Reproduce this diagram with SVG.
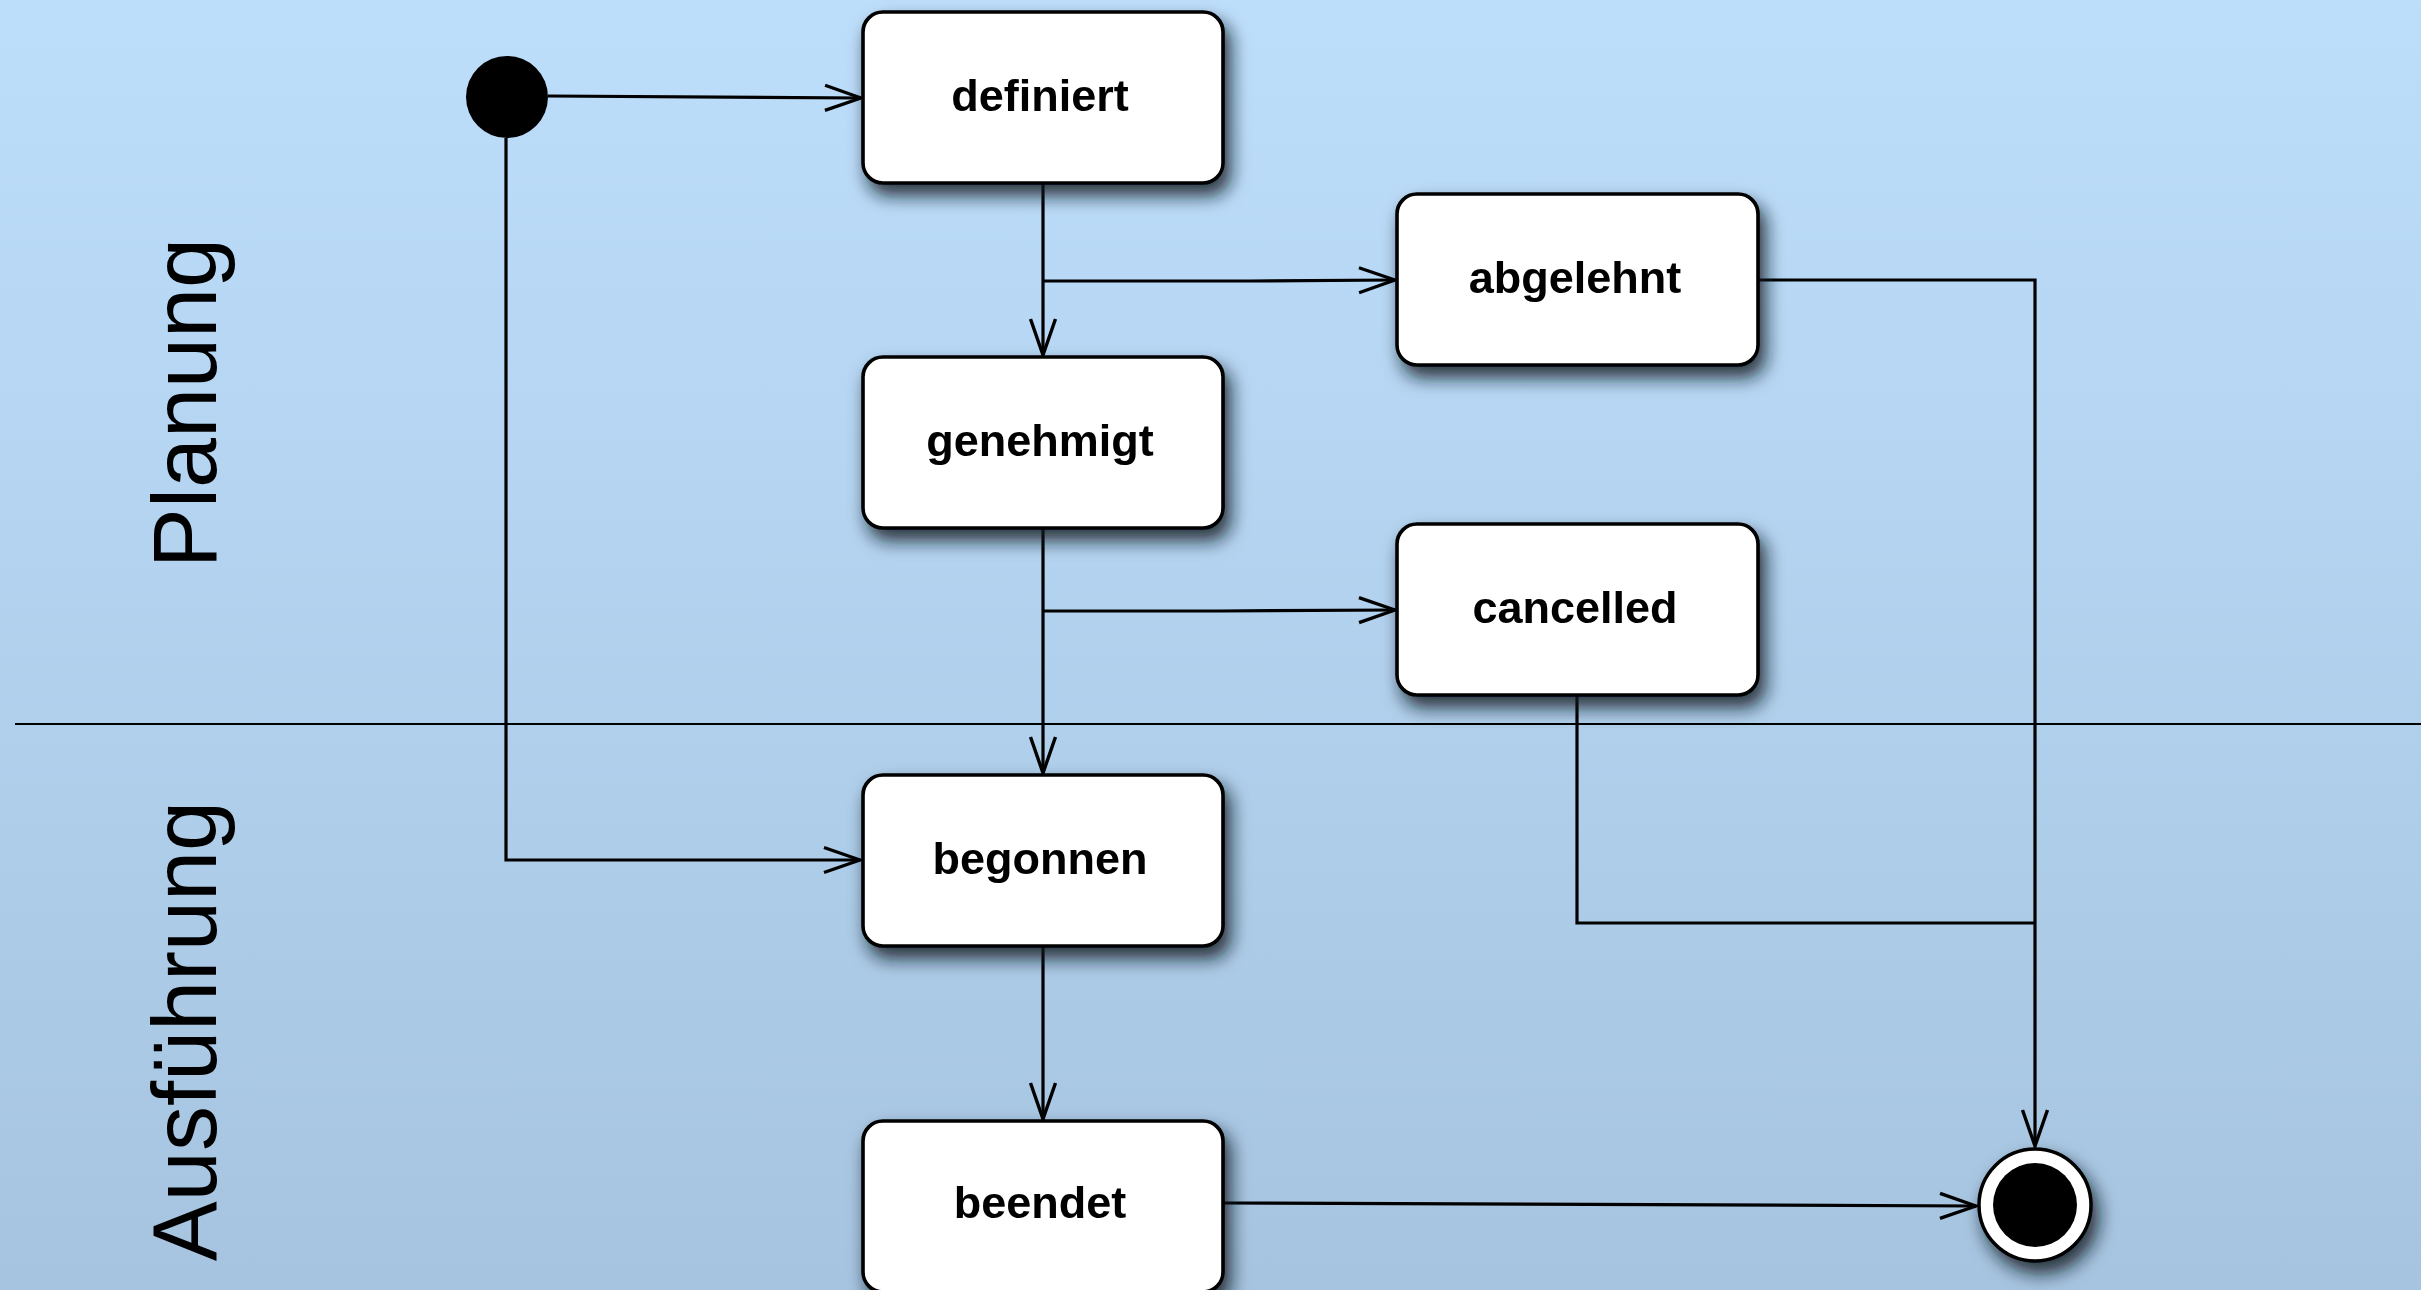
<svg xmlns="http://www.w3.org/2000/svg" width="2421" height="1290" viewBox="0 0 2421 1290">
  <defs>
    <linearGradient id="bg" x1="0" y1="0" x2="0" y2="1">
      <stop offset="0" stop-color="#BDDEFB"/>
      <stop offset="1" stop-color="#A6C4E0"/>
    </linearGradient>
    <filter id="shadow" x="-20%" y="-20%" width="150%" height="170%">
      <feDropShadow dx="6" dy="11" stdDeviation="9" flood-color="#101820" flood-opacity="0.85"/>
    </filter>
    <marker id="open" viewBox="0 0 40 30" refX="38" refY="15" markerWidth="40" markerHeight="30" markerUnits="userSpaceOnUse" orient="auto">
      <path d="M2,2.5 L38,15 L2,27.5" fill="none" stroke="#000" stroke-width="3.4"/>
    </marker>
    <style>
      .state rect { fill: #fff; stroke: #000; stroke-width: 3.6; }
      .state text { font-family: "Liberation Sans", Arial, sans-serif; font-weight: bold; font-size: 45px; text-anchor: middle; fill: #000; }
      .lane { font-family: "Liberation Sans", Arial, sans-serif; font-size: 90px; text-anchor: middle; fill: #000; }
      .conn path { fill: none; stroke: #000; stroke-width: 3.2; }
      .arrow { marker-end: url(#open); }
    </style>
  </defs>

  <!-- background and swimlane divider -->
  <rect x="0" y="0" width="2421" height="1290" fill="url(#bg)"/>
  <line x1="15" y1="724" x2="2421" y2="724" stroke="#000" stroke-width="2.2"/>

  <!-- lane titles -->
  <text class="lane" transform="translate(216,403) rotate(-90)">Planung</text>
  <text class="lane" transform="translate(216,1031) rotate(-90)">Ausführung</text>

  <!-- transitions -->
  <g id="connectors" class="conn">
    <path class="arrow" d="M548,96 L861,98"/>
    <path class="arrow" d="M506,138 V860 H860"/>
    <path class="arrow" d="M1043,183 V355"/>
    <path class="arrow" d="M1043,281 H1250 L1395,280"/>
    <path class="arrow" d="M1043,528 V773"/>
    <path class="arrow" d="M1043,611 H1220 L1395,610"/>
    <path class="arrow" d="M1043,946 V1119"/>
    <path class="arrow" d="M1224,1203 L1976,1206"/>
    <path d="M1759,280 H2035 V923"/>
    <path d="M1577,696 V923 H2035"/>
    <path class="arrow" d="M2035,923 V1146"/>
  </g>

  <!-- initial state -->
  <g id="initial">
    <circle cx="507" cy="97" r="41" fill="#000"/>
  </g>

  <!-- states -->
  <g id="definiert" class="state" filter="url(#shadow)">
    <rect x="863" y="12" width="360" height="171" rx="20"/>
    <text x="1040" y="111">definiert</text>
  </g>
  <g id="genehmigt" class="state" filter="url(#shadow)">
    <rect x="863" y="357" width="360" height="171" rx="20"/>
    <text x="1040" y="456">genehmigt</text>
  </g>
  <g id="abgelehnt" class="state" filter="url(#shadow)">
    <rect x="1397" y="194" width="361" height="171" rx="20"/>
    <text x="1575" y="293">abgelehnt</text>
  </g>
  <g id="cancelled" class="state" filter="url(#shadow)">
    <rect x="1397" y="524" width="361" height="171" rx="20"/>
    <text x="1575" y="623">cancelled</text>
  </g>
  <g id="begonnen" class="state" filter="url(#shadow)">
    <rect x="863" y="775" width="360" height="171" rx="20"/>
    <text x="1040" y="874">begonnen</text>
  </g>
  <g id="beendet" class="state" filter="url(#shadow)">
    <rect x="863" y="1121" width="360" height="171" rx="20"/>
    <text x="1040" y="1218">beendet</text>
  </g>

  <!-- final state -->
  <g id="final" filter="url(#shadow)">
    <circle cx="2035" cy="1205" r="56" fill="#fff" stroke="#000" stroke-width="3.5"/>
    <circle cx="2035" cy="1205" r="42" fill="#000"/>
  </g>
</svg>
